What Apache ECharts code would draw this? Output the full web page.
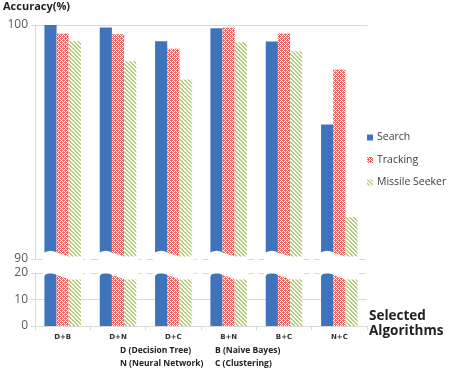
<!DOCTYPE html>
<html><head><meta charset="utf-8">
<script src="https://cdn.jsdelivr.net/npm/echarts@6/dist/echarts.min.js"></script>
<style>html,body{margin:0;padding:0;background:#fff}#c{width:450px;height:379px}</style>
</head><body><div id="c"></div>
<script>
const categories = ['D+B', 'D+N', 'D+C', 'B+N', 'B+C', 'N+C'];
const searchVals   = [100.0, 99.89, 99.31, 99.86, 99.30, 95.75];
const trackingVals = [99.64, 99.61, 98.98, 99.89, 99.64, 98.10];
const missileVals  = [99.31, 98.45, 97.67, 99.26, 98.88, 91.80];
const topTicks = [90, 100];
const bottomTicks = [0, 10, 20];

function pattern(kind) {
  const c = document.createElement('canvas');
  c.width = 4; c.height = 4;
  const g = c.getContext('2d');
  g.fillStyle = '#fff'; g.fillRect(0, 0, 4, 4);
  if (kind === 'track') {
    g.fillStyle = '#e46a6a';
    for (let y = 0; y < 4; y++) for (let x = 0; x < 4; x++) {
      if ((x + y) % 2 === 0 || (x === 1 && y === 2) || (x === 3 && y === 0)) g.fillRect(x, y, 1, 1);
    }
  } else {
    g.fillStyle = '#b3cd7c';
    for (let i = 0; i < 4; i++) { g.fillRect(i, i, 1, 1); g.fillRect((i + 1) % 4, i, 1, 1); }
  }
  return { image: c, repeat: 'repeat' };
}
const cBlue = '#3f74bd';
const cTrack = pattern('track');
const cMiss = pattern('miss');

const chart = echarts.init(document.getElementById('c'), null, { renderer: 'canvas' });
const axisCol = '#d9d9d9';
const labelStyle = { color: '#595959', fontSize: 12, fontFamily: 'Open Sans' };

// break-shape (fraction across group, pixel offset)
const topWave = [[-0.05, -6.5], [0, -6.5], [0.06, -7.6], [0.17, -8.2], [0.28, -7.4], [0.34, -6.3], [0.5, -4.5], [0.62, -3], [0.68, -2.5], [1.05, -2.5]];
const botWave = [[-0.05, 3], [0, 3], [0.04, 1.3], [0.12, 0.4], [0.22, 0.4], [0.3, 1.2], [0.34, 2], [0.5, 4], [0.62, 5.8], [0.68, 6.6], [1.05, 6.6]];

function breakItem(isTop) {
  return function (params, api) {
    const idx = api.value(0);
    const base = api.coord([idx, isTop ? 90 : 20]);
    const band = api.size([1, 0])[0];
    const gw = band * 0.66;
    const x0 = base[0] - gw / 2;
    const wave = isTop ? topWave : botWave;
    const pts = wave.map(p => [x0 + p[0] * gw, base[1] + p[1]]);
    const yEdge = isTop ? base[1] + 1.5 : base[1] - 1.5;
    pts.push([x0 + 1.05 * gw, yEdge]);
    pts.push([x0 - 0.05 * gw, yEdge]);
    return { type: 'polygon', shape: { points: pts }, style: { fill: '#fff' }, z2: 100 };
  };
}

const barCommon = { barWidth: '22%', barGap: '0%' };
const idxData = categories.map((_, i) => [i]);

chart.setOption({
  animation: false,
  textStyle: { fontFamily: 'Open Sans' },
  grid: [
    { left: 35, right: 83, top: 25, height: 234 },
    { left: 35, right: 83, top: 273, height: 53 }
  ],
  xAxis: [
    { gridIndex: 0, type: 'category', data: categories, position: 'bottom',
      axisLine: { show: true, lineStyle: { color: axisCol, type: [8, 6] } }, axisTick: { show: false }, axisLabel: { show: false } },
    { gridIndex: 0, type: 'category', data: categories, position: 'top',
      axisLine: { show: true, lineStyle: { color: axisCol } }, axisTick: { show: false }, axisLabel: { show: false } },
    { gridIndex: 1, type: 'category', data: categories, position: 'bottom',
      axisLine: { show: true, lineStyle: { color: axisCol } },
      axisTick: { show: true, length: 4, lineStyle: { color: axisCol } },
      axisLabel: { color: '#333', fontSize: 7, fontWeight: 'bold', margin: 8, fontFamily: 'DejaVu Sans' } },
    { gridIndex: 1, type: 'category', data: categories, position: 'top',
      axisLine: { show: true, lineStyle: { color: axisCol, type: [8, 6] } }, axisTick: { show: false }, axisLabel: { show: false } }
  ],
  yAxis: [
    { gridIndex: 0, type: 'value', min: topTicks[0], max: topTicks[1], interval: 10,
      axisLine: { show: true, lineStyle: { color: axisCol } },
      axisTick: { show: true, length: 4, lineStyle: { color: axisCol } },
      splitLine: { show: false }, axisLabel: Object.assign({ margin: 7 }, labelStyle) },
    { gridIndex: 1, type: 'value', min: bottomTicks[0], max: bottomTicks[2], interval: 10,
      axisLine: { show: true, lineStyle: { color: axisCol } },
      axisTick: { show: true, length: 4, lineStyle: { color: axisCol } },
      splitLine: { show: true, lineStyle: { color: ['rgba(0,0,0,0)', axisCol, 'rgba(0,0,0,0)'] } },
      axisLabel: Object.assign({ margin: 7 }, labelStyle) }
  ],
  legend: {
    orient: 'vertical', left: 362, top: 127, itemWidth: 6, itemHeight: 6, itemGap: 11.5,
    icon: 'rect',
    textStyle: { color: '#404040', fontSize: 10.5, fontFamily: 'Open Sans', padding: [0, 0, 0, -1] },
    data: ['Search', 'Tracking', 'Missile Seeker']
  },
  series: [
    Object.assign({ name: 'Search', type: 'bar', xAxisIndex: 0, yAxisIndex: 0, data: searchVals, itemStyle: { color: cBlue } }, barCommon),
    Object.assign({ name: 'Tracking', type: 'bar', xAxisIndex: 0, yAxisIndex: 0, data: trackingVals, itemStyle: { color: cTrack } }, barCommon),
    Object.assign({ name: 'Missile Seeker', type: 'bar', xAxisIndex: 0, yAxisIndex: 0, data: missileVals, itemStyle: { color: cMiss } }, barCommon),
    Object.assign({ name: 'Search', type: 'bar', xAxisIndex: 2, yAxisIndex: 1, data: searchVals, clip: true, itemStyle: { color: cBlue } }, barCommon),
    Object.assign({ name: 'Tracking', type: 'bar', xAxisIndex: 2, yAxisIndex: 1, data: trackingVals, clip: true, itemStyle: { color: cTrack } }, barCommon),
    Object.assign({ name: 'Missile Seeker', type: 'bar', xAxisIndex: 2, yAxisIndex: 1, data: missileVals, clip: true, itemStyle: { color: cMiss } }, barCommon),
    { type: 'custom', xAxisIndex: 0, yAxisIndex: 0, data: idxData, renderItem: breakItem(true), z: 5, silent: true, clip: false },
    { type: 'custom', xAxisIndex: 2, yAxisIndex: 1, data: idxData, renderItem: breakItem(false), z: 5, silent: true, clip: false }
  ],
  graphic: [
    { type: 'text', left: 3, top: 1, style: { text: 'Accuracy(%)', fontSize: 11, fontWeight: 'bold', fill: '#222', fontFamily: 'Open Sans' } },
    { type: 'text', left: 369, top: 309, style: { text: 'Selected\nAlgorithms', fontSize: 13.5, fontWeight: 'bold', fill: '#222', lineHeight: 14.5, fontFamily: 'Open Sans' } },
    { type: 'text', left: 120, top: 346, style: { text: 'D (Decision Tree)', fontSize: 8.5, fontWeight: 'bold', fill: '#222', fontFamily: 'Open Sans' } },
    { type: 'text', left: 120, top: 359, style: { text: 'N (Neural Network)', fontSize: 8.5, fontWeight: 'bold', fill: '#222', fontFamily: 'Open Sans' } },
    { type: 'text', left: 215, top: 346, style: { text: 'B (Naive Bayes)', fontSize: 8.5, fontWeight: 'bold', fill: '#222', fontFamily: 'Open Sans' } },
    { type: 'text', left: 215, top: 359, style: { text: 'C (Clustering)', fontSize: 8.5, fontWeight: 'bold', fill: '#222', fontFamily: 'Open Sans' } }
  ]
});
</script></body></html>
